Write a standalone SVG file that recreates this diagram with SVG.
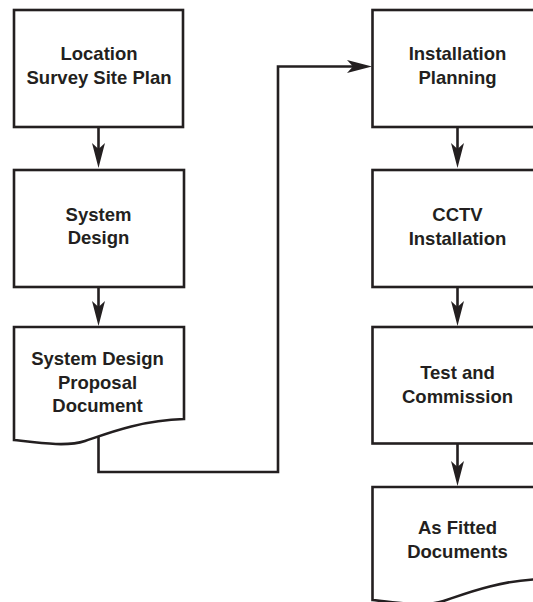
<svg xmlns="http://www.w3.org/2000/svg" width="533" height="602" viewBox="0 0 533 602">
  <style>
    .box { fill: #ffffff; stroke: #231f20; stroke-width: 2.6; stroke-linejoin: miter; }
    .wire { fill: none; stroke: #231f20; stroke-width: 2.6; }
    .label { font-family: "Liberation Sans", Arial, sans-serif; font-weight: bold; font-size: 18.5px; fill: #231f20; text-anchor: middle; }
  </style>
  <defs>
    <marker id="head" viewBox="-11 -7 27 14" refX="0" refY="0" markerWidth="27" markerHeight="14" markerUnits="userSpaceOnUse" orient="auto">
      <path d="M15,0 L-10,-6.5 L-4,0 L-10,6.5 Z" fill="#231f20"/>
    </marker>
  </defs>

  <rect width="533" height="602" fill="#ffffff"/>

  <!-- left column -->
  <g id="location-survey">
    <rect class="box" x="14" y="10" width="169" height="117"/>
    <text class="label" x="99" y="60">Location</text>
    <text class="label" x="99" y="83.5">Survey Site Plan</text>
  </g>

  <g id="system-design">
    <rect class="box" x="14" y="170" width="170" height="117"/>
    <text class="label" x="98.5" y="220.5">System</text>
    <text class="label" x="98.5" y="244">Design</text>
  </g>

  <g id="design-proposal">
    <path class="box" d="M14,327 H184 V419 C140,420 103,435 85,441 C67,447 40,443 14,440 Z"/>
    <text class="label" x="97.5" y="365">System Design</text>
    <text class="label" x="97.5" y="388.5">Proposal</text>
    <text class="label" x="97.5" y="412">Document</text>
  </g>

  <!-- right column -->
  <g id="installation-planning">
    <rect class="box" x="372.5" y="10" width="170" height="117"/>
    <text class="label" x="457.5" y="60">Installation</text>
    <text class="label" x="457.5" y="83.5">Planning</text>
  </g>

  <g id="cctv-installation">
    <rect class="box" x="372.5" y="170" width="170" height="117"/>
    <text class="label" x="457.5" y="221">CCTV</text>
    <text class="label" x="457.5" y="245">Installation</text>
  </g>

  <g id="test-commission">
    <rect class="box" x="372.5" y="327" width="170" height="116.5"/>
    <text class="label" x="457.5" y="379">Test and</text>
    <text class="label" x="457.5" y="403">Commission</text>
  </g>

  <g id="as-fitted">
    <path class="box" d="M372.5,487 H542.5 V579 C498.5,580 461.5,595 443.5,601 C425.5,607 398.5,603 372.5,600 Z"/>
    <text class="label" x="457.5" y="534">As Fitted</text>
    <text class="label" x="457.5" y="558">Documents</text>
  </g>

  <!-- connectors -->
  <g id="connectors">
    <line class="wire" x1="98.5" y1="127" x2="98.5" y2="153" marker-end="url(#head)"/>
    <line class="wire" x1="98.5" y1="287" x2="98.5" y2="311" marker-end="url(#head)"/>
    <path class="wire" d="M98.5,437 V472 H278 V66.5 H357" marker-end="url(#head)"/>
    <line class="wire" x1="457.5" y1="127" x2="457.5" y2="153" marker-end="url(#head)"/>
    <line class="wire" x1="457.5" y1="287" x2="457.5" y2="311" marker-end="url(#head)"/>
    <line class="wire" x1="457.5" y1="443.5" x2="457.5" y2="471" marker-end="url(#head)"/>
  </g>
</svg>
